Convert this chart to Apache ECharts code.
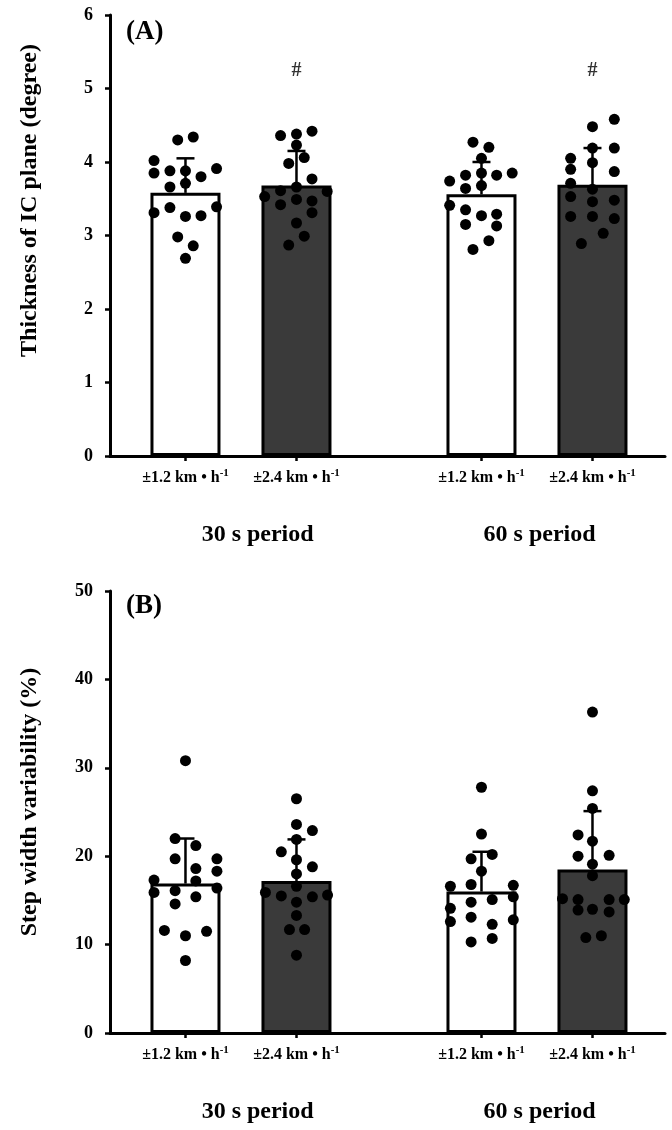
<!DOCTYPE html>
<html>
<head>
<meta charset="utf-8">
<script src="https://cdn.jsdelivr.net/npm/echarts@6/dist/echarts.min.js"></script>
<style>
html,body{margin:0;padding:0;background:#fff;}
#c{width:672px;height:1130px;}
</style>
</head>
<body>
<div id="c"></div>
<script>
// ---------------- DATA ----------------
const periods = ['30 s period', '60 s period'];
const speeds = ['±1.2 km • h', '±2.4 km • h'];

// Panel A: thickness of IC plane (degree); order: 30s-1.2, 30s-2.4, 60s-1.2, 60s-2.4
const thickMean = [3.58, 3.68, 3.56, 3.69];
const thickSdTop = [4.05, 4.15, 4.00, 4.19];
const thickSig = ['', '#', '', '#'];
const thickSigLevel = 5.24;
const thick30Low = [4.30, 4.34, 4.02, 3.85, 3.88, 3.88, 3.91, 3.80, 3.71, 3.66, 3.31, 3.38, 3.39, 3.26, 3.27, 2.98, 2.86, 2.69];
const thick30LowJit = [-0.21, 0.21, -0.85, -0.85, -0.42, 0, 0.84, 0.42, 0, -0.42, -0.85, -0.42, 0.84, 0, 0.42, -0.21, 0.21, 0];
const thick30High = [4.36, 4.38, 4.42, 4.23, 3.98, 4.06, 3.77, 3.66, 3.53, 3.61, 3.60, 3.42, 3.49, 3.47, 3.31, 3.17, 2.99, 2.87];
const thick30HighJit = [-0.43, 0, 0.42, 0, -0.21, 0.21, 0.42, 0, -0.86, -0.43, 0.83, -0.43, 0, 0.42, 0.42, 0, 0.21, -0.21];
const thick60Low = [4.27, 4.20, 4.05, 3.74, 3.82, 3.85, 3.82, 3.85, 3.64, 3.68, 3.41, 3.35, 3.27, 3.29, 3.15, 3.13, 2.93, 2.81];
const thick60LowJit = [-0.23, 0.20, 0, -0.86, -0.43, 0, 0.41, 0.83, -0.43, 0, -0.86, -0.43, 0, 0.41, -0.43, 0.41, 0.20, -0.23];
const thick60High = [4.58, 4.48, 4.19, 4.19, 4.05, 3.87, 3.99, 3.90, 3.71, 3.63, 3.53, 3.48, 3.46, 3.26, 3.26, 3.23, 3.03, 2.89];
const thick60HighJit = [0.59, 0, 0, 0.59, -0.59, 0.59, 0, -0.59, -0.59, 0, -0.59, 0.59, 0, -0.59, 0, 0.59, 0.29, -0.30];

// Panel B: step width variability (%)
const swvMean = [16.9, 17.2, 16.0, 18.5];
const swvSdTop = [22.0, 21.9, 20.5, 25.1];
const swv30Low = [30.8, 22.0, 21.2, 19.7, 19.7, 18.6, 18.3, 17.3, 17.2, 15.9, 16.1, 16.4, 15.4, 14.6, 11.6, 11.5, 11.0, 8.2];
const swv30LowJit = [0, -0.28, 0.28, -0.28, 0.85, 0.28, 0.85, -0.85, 0.28, -0.85, -0.28, 0.85, 0.28, -0.28, -0.57, 0.57, 0, 0];
const swv30High = [26.5, 23.6, 22.9, 21.9, 20.5, 19.6, 18.8, 18.0, 16.6, 15.9, 15.5, 15.4, 15.6, 14.8, 13.3, 11.7, 11.7, 8.8];
const swv30HighJit = [0, 0, 0.43, 0, -0.41, 0, 0.43, 0, 0, -0.84, -0.41, 0.43, 0.84, 0, 0, -0.19, 0.22, 0];
const swv60Low = [27.8, 22.5, 19.7, 20.2, 18.3, 16.6, 16.8, 16.7, 15.4, 15.1, 14.8, 14.1, 13.1, 12.6, 12.8, 12.3, 10.7, 10.3];
const swv60LowJit = [0, 0, -0.28, 0.29, 0, -0.84, -0.28, 0.86, 0.86, 0.29, -0.28, -0.84, -0.28, -0.84, 0.86, 0.29, 0.29, -0.28];
const swv60High = [36.3, 27.4, 25.4, 22.4, 21.7, 20.0, 20.1, 19.1, 17.8, 15.2, 15.1, 15.1, 15.1, 13.9, 14.0, 13.7, 10.8, 11.0];
const swv60HighJit = [0, 0, 0, -0.39, 0, -0.39, 0.45, 0, 0, -0.81, -0.39, 0.45, 0.86, -0.39, 0, 0.45, -0.18, 0.24];

const yTicksA = {min: 0, max: 6, interval: 1};
const yTicksB = {min: 0, max: 50, interval: 10};
const yNameA = 'Thickness of IC plane (degree)';
const yNameB = 'Step width variability (%)';
const panelLabels = ['(A)', '(B)'];

// ---------------- LAYOUT ----------------
const FONT = "'Liberation Serif','Times New Roman',serif";
const slotPos = [0, 3, 8, 11];          // x positions of the four bars on the value axis
const periodPos = [1.95, 9.57];         // x positions of the period labels
const X_MIN = -2.04, X_MAX = 12.96;
const grids = [
  {left: 110, right: 7, top: 15, height: 441},
  {left: 110, right: 7, top: 591, height: 442}
];

function nearestIdx(arr, v) {
  let b = 0;
  for (let i = 1; i < arr.length; i++) if (Math.abs(arr[i] - v) < Math.abs(arr[b] - v)) b = i;
  return b;
}

function buildX(gi) {
  return [
    {
      type: 'value', gridIndex: gi, min: X_MIN, max: X_MAX, position: 'bottom',
      axisLine: {show: true, onZero: false, lineStyle: {color: '#000', width: 3}},
      axisTick: {show: true, customValues: slotPos, length: 5, inside: false, lineStyle: {color: '#000', width: 2.5}},
      axisLabel: {
        show: true, customValues: slotPos, margin: 12,
        formatter: v => '{a|' + speeds[nearestIdx(slotPos, v) % 2] + '}{s|-1}',
        rich: {
          a: {fontFamily: FONT, fontWeight: 'bold', fontSize: 16, color: '#000', lineHeight: 19},
          s: {fontFamily: FONT, fontWeight: 'bold', fontSize: 11, color: '#000', lineHeight: 19, padding: [0, 0, 8, 0]}
        }
      },
      splitLine: {show: false}
    },
    {
      type: 'value', gridIndex: gi, min: X_MIN, max: X_MAX, position: 'bottom', offset: 60,
      axisLine: {show: false}, axisTick: {show: false}, splitLine: {show: false},
      axisLabel: {
        show: true, customValues: periodPos, margin: 7,
        formatter: v => periods[nearestIdx(periodPos, v)],
        fontFamily: FONT, fontWeight: 'bold', fontSize: 24, color: '#000'
      }
    }
  ];
}

function buildY(gi, t, name, shift) {
  return {
    type: 'value', gridIndex: gi, min: t.min, max: t.max, interval: t.interval,
    axisLine: {show: true, onZero: false, lineStyle: {color: '#000', width: 3}},
    axisTick: {show: true, length: 5, inside: false, lineStyle: {color: '#000', width: 2.5}},
    axisLabel: {margin: 17, fontFamily: FONT, fontWeight: 'bold', fontSize: 18, color: '#000'},
    splitLine: {show: false},
    name: name, nameLocation: 'middle', nameGap: 68,
    nameTextStyle: {fontFamily: FONT, fontWeight: 'bold', fontSize: 24, color: '#000',
      padding: shift >= 0 ? [0, 0, 0, shift] : [0, -shift, 0, 0]}
  };
}

function errRender(params, api) {
  const x = api.value(0), m = api.value(1), t = api.value(2);
  const p0 = api.coord([x, m]), p1 = api.coord([x, t]);
  return {type: 'group', children: [
    {type: 'line', shape: {x1: p0[0], y1: p0[1], x2: p1[0], y2: p1[1]}, style: {stroke: '#000', lineWidth: 2.5}},
    {type: 'line', shape: {x1: p1[0] - 9, y1: p1[1], x2: p1[0] + 9, y2: p1[1]}, style: {stroke: '#000', lineWidth: 2.5}}
  ]};
}

function panelSeries(gi, means, tops, dots, jits) {
  const xi = gi * 2, yi = gi;
  const s = [];
  s.push({
    type: 'bar', xAxisIndex: xi, yAxisIndex: yi, barWidth: 70, barGap: '-100%',
    data: [[slotPos[0], means[0]], [slotPos[2], means[2]]],
    itemStyle: {color: '#ffffff', borderColor: '#000', borderWidth: 3}, z: 2
  });
  s.push({
    type: 'bar', xAxisIndex: xi, yAxisIndex: yi, barWidth: 70, barGap: '-100%',
    data: [[slotPos[1], means[1]], [slotPos[3], means[3]]],
    itemStyle: {color: '#3a3a3a', borderColor: '#000', borderWidth: 3}, z: 2
  });
  s.push({
    type: 'custom', xAxisIndex: xi, yAxisIndex: yi, renderItem: errRender, z: 3,
    data: means.map((m, i) => [slotPos[i], m, tops[i]])
  });
  const pts = [];
  dots.forEach((arr, i) => arr.forEach((v, k) => pts.push([slotPos[i] + jits[i][k], v])));
  s.push({
    type: 'scatter', xAxisIndex: xi, yAxisIndex: yi, symbol: 'circle', symbolSize: 11,
    itemStyle: {color: '#000', opacity: 1}, data: pts, z: 4
  });
  return s;
}

const series = [].concat(
  panelSeries(0, thickMean, thickSdTop,
    [thick30Low, thick30High, thick60Low, thick60High],
    [thick30LowJit, thick30HighJit, thick60LowJit, thick60HighJit]),
  panelSeries(1, swvMean, swvSdTop,
    [swv30Low, swv30High, swv60Low, swv60High],
    [swv30LowJit, swv30HighJit, swv60LowJit, swv60HighJit])
);
series.push({
  type: 'scatter', xAxisIndex: 0, yAxisIndex: 0, symbolSize: 1,
  itemStyle: {color: 'rgba(0,0,0,0)'},
  data: thickSig.map((s, i) => s ? {value: [slotPos[i], thickSigLevel], name: s} : null).filter(Boolean),
  label: {show: true, position: 'inside', formatter: p => p.name,
    fontFamily: FONT, fontWeight: 'bold', fontSize: 20, color: '#000'},
  z: 5
});

const chart = echarts.init(document.getElementById('c'), null, {renderer: 'canvas'});
chart.setOption({
  animation: false,
  backgroundColor: '#fff',
  title: [
    {text: panelLabels[0], left: 126, top: 19, padding: 0,
      textStyle: {fontFamily: FONT, fontWeight: 'bold', fontSize: 27, color: '#000'}},
    {text: panelLabels[1], left: 126, top: 593, padding: 0,
      textStyle: {fontFamily: FONT, fontWeight: 'bold', fontSize: 27, color: '#000'}}
  ],
  grid: grids,
  xAxis: buildX(0).concat(buildX(1)),
  yAxis: [buildY(0, yTicksA, yNameA, 70), buildY(1, yTicksB, yNameB, 20)],
  series: series
});
</script>
</body>
</html>
